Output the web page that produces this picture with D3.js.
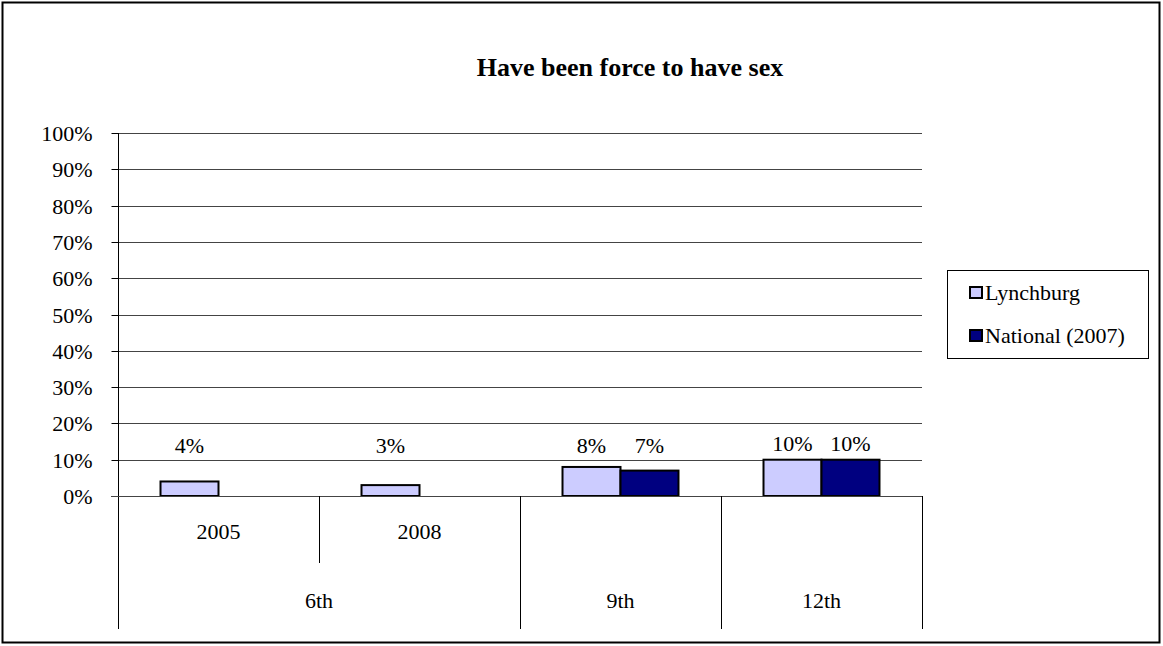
<!DOCTYPE html>
<html>
<head>
<meta charset="utf-8">
<script src="https://cdn.jsdelivr.net/npm/d3@7"></script>
<style>
  html, body { margin: 0; padding: 0; background: #fff; }
  svg { display: block; }
  svg text { font-family: "Liberation Serif", "Times New Roman", serif !important; fill: #000; }
</style>
</head>
<body>
<script>
const title = "Have been force to have sex";
const categories = ["2005", "2008", "9th", "12th"];
const groups = [
  { label: "6th", cats: ["2005", "2008"] },
  { label: "9th", cats: ["9th"] },
  { label: "12th", cats: ["12th"] }
];
const subLabels = ["2005", "2008", "", ""];
const seriesNames = ["Lynchburg", "National (2007)"];
const lynchburg = [0.04, 0.03, 0.08, 0.10];
const national = [null, null, 0.07, 0.10];
const seriesColors = ["#ccccff", "#000080"];
const yTicks = [0, 0.1, 0.2, 0.3, 0.4, 0.5, 0.6, 0.7, 0.8, 0.9, 1.0];

const W = 1163, H = 646;
const svg = d3.select("body").append("svg").attr("width", W).attr("height", H);

// outer frame
svg.append("rect").attr("x", 2.5).attr("y", 2.5).attr("width", 1157).attr("height", 640)
  .attr("fill", "#fff").attr("stroke", "#000").attr("stroke-width", 2);

const plotL = 118, plotR = 922, plotT = 133, plotB = 496;
const x = d3.scaleBand().domain(categories).range([plotL, plotR]).padding(0);
const y = d3.scaleLinear().domain([0, 1]).range([plotB, plotT]);
const inner = d3.scaleBand().domain(seriesNames).range([0, x.bandwidth()])
  .paddingInner(0).paddingOuter(0.733);

// title
svg.append("text").attr("x", 630).attr("y", 76).attr("text-anchor", "middle")
  .attr("font-size", 26).attr("font-weight", "bold").text(title);

// gridlines
svg.append("g").selectAll("line").data(yTicks.filter(d => d > 0)).join("line")
  .attr("x1", plotL).attr("x2", plotR)
  .attr("y1", d => Math.round(y(d)) + 0.5).attr("y2", d => Math.round(y(d)) + 0.5)
  .attr("stroke", "#444").attr("stroke-width", 1);

// y axis
const yAxis = d3.axisLeft(y).tickValues(yTicks).tickFormat(d3.format(".0%"))
  .tickSize(7).tickPadding(19);
const gy = svg.append("g").attr("transform", `translate(${plotL + 0.5},0.5)`).call(yAxis)
  .attr("font-family", null).attr("font-size", null);
gy.select(".domain").remove();
gy.selectAll(".tick line").attr("stroke", "#000");
gy.selectAll(".tick text").attr("font-size", 22).attr("dy", "0.34em");
gy.selectAll(".tick").attr("transform", d => `translate(0,${Math.round(y(d))})`);
svg.append("line").attr("x1", plotL + 0.5).attr("x2", plotL + 0.5)
  .attr("y1", plotT).attr("y2", 629).attr("stroke", "#000");

// bars
const seriesData = [lynchburg, national];
seriesData.forEach((vals, si) => {
  const g = svg.append("g");
  const data = categories.map((c, i) => ({ c, v: vals[i] })).filter(d => d.v != null);
  g.selectAll("rect").data(data).join("rect")
    .attr("x", d => x(d.c) + inner(seriesNames[si]))
    .attr("y", d => y(d.v))
    .attr("width", inner.bandwidth())
    .attr("height", d => y(0) - y(d.v))
    .attr("fill", seriesColors[si]).attr("stroke", "#000").attr("stroke-width", 2);
  g.selectAll("text").data(data).join("text")
    .attr("x", d => x(d.c) + inner(seriesNames[si]) + inner.bandwidth() / 2)
    .attr("y", d => Math.min(y(d.v) - 9, y(0) - 43))
    .attr("text-anchor", "middle").attr("font-size", 22)
    .text(d => d3.format(".0%")(d.v));
});

// x axis baseline
svg.append("line").attr("x1", plotL - 7).attr("x2", plotR)
  .attr("y1", plotB + 0.5).attr("y2", plotB + 0.5).attr("stroke", "#444");

// level 1 category labels and separators
const sub = svg.append("g");
sub.selectAll("text").data(categories.filter((c, i) => subLabels[i])).join("text")
  .attr("x", d => x(d) + x.bandwidth() / 2).attr("y", 539)
  .attr("text-anchor", "middle").attr("font-size", 22)
  .text(d => subLabels[categories.indexOf(d)]);
sub.selectAll("line").data(categories.slice(1).concat(["__end"])).join("line")
  .attr("x1", d => (d === "__end" ? plotR : x(d)) + 0.5)
  .attr("x2", d => (d === "__end" ? plotR : x(d)) + 0.5)
  .attr("y1", plotB).attr("y2", 563).attr("stroke", "#000");

// level 2 group labels and separators
const grp = svg.append("g");
groups.forEach(gr => {
  const x0 = x(gr.cats[0]);
  const x1 = x(gr.cats[gr.cats.length - 1]) + x.bandwidth();
  grp.append("text").attr("x", (x0 + x1) / 2).attr("y", 608)
    .attr("text-anchor", "middle").attr("font-size", 22).text(gr.label);
  grp.append("line").attr("x1", x1 + 0.5).attr("x2", x1 + 0.5)
    .attr("y1", 563).attr("y2", 629).attr("stroke", "#000");
});

// legend
const lg = svg.append("g");
lg.append("rect").attr("x", 947.5).attr("y", 270.5).attr("width", 201).attr("height", 88)
  .attr("fill", "#fff").attr("stroke", "#000");
seriesNames.forEach((name, i) => {
  const yy = 287 + i * 43;
  lg.append("rect").attr("x", 970).attr("y", yy).attr("width", 12).attr("height", 11)
    .attr("fill", seriesColors[i]).attr("stroke", "#000").attr("stroke-width", 2);
  lg.append("text").attr("x", 985).attr("y", yy + 13).attr("font-size", 22).text(name);
});
</script>
</body>
</html>
